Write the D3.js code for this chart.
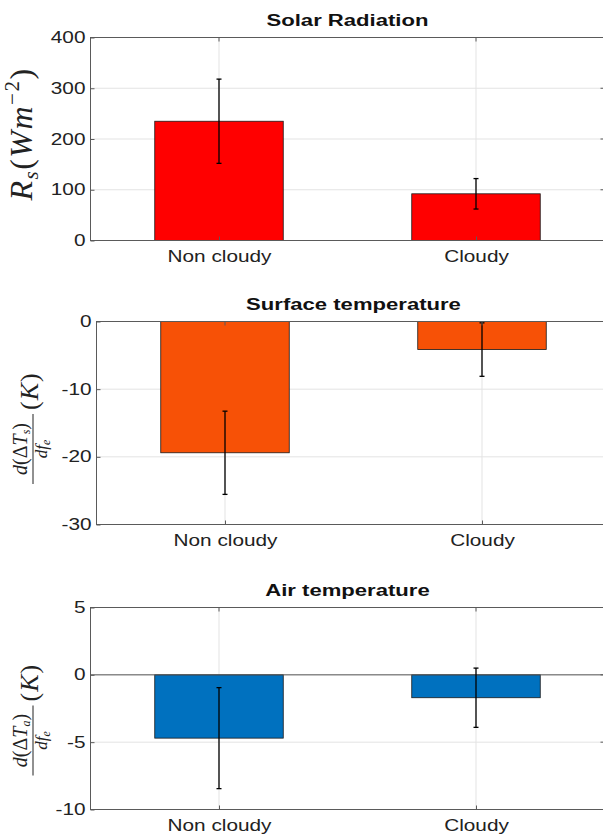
<!DOCTYPE html>
<html>
<head>
<meta charset="utf-8">
<script src="https://cdn.jsdelivr.net/npm/d3@7"></script>
<style>
  body { margin: 0; background: #fff; }
  svg { display: block; font-family: "Liberation Sans", Arial, sans-serif; }
</style>
</head>
<body>
<svg id="canvas" width="603" height="836"></svg>
<script>
const categories = ["Non cloudy", "Cloudy"];
const titles = ["Solar Radiation", "Surface temperature", "Air temperature"];

const radMean = [235, 92];
const radErr = [83, 30];
const tsMean = [-19.4, -4.15];
const tsErr = [6.15, 3.95];
const taMean = [-4.7, -1.7];
const taErr = [3.75, 2.2];

const radTicks = [0, 100, 200, 300, 400];
const tsTicks = [-30, -20, -10, 0];
const taTicks = [-10, -5, 0, 5];

const panels = [
  { title: titles[0], mean: radMean, err: radErr, ticks: radTicks, color: "#ff0000",
    box: { left: 90.5, right: 604.5, top: 37.5, bottom: 240.5 }, label: "rad", shift: -5 },
  { title: titles[1], mean: tsMean, err: tsErr, ticks: tsTicks, color: "#f75106",
    box: { left: 96.5, right: 610.5, top: 321.5, bottom: 524.5 }, label: "s", shift: 0 },
  { title: titles[2], mean: taMean, err: taErr, ticks: taTicks, color: "#0071bf",
    box: { left: 90.5, right: 604.5, top: 607.5, bottom: 809.5 }, label: "a", shift: 6 }
];

let canvas = d3.select("#canvas");
const axisColor = "#5a5a5a";
const gridColor = "#e3e3e3";
const sx = 1.3; // the picture's text is stretched sideways

const drawPanel = (p) => {
  const b = p.box;
  const x = d3.scaleLinear().domain([0.5, 2.5]).range([b.left, b.right]);
  const y = d3.scaleLinear().domain(d3.extent(p.ticks)).range([b.bottom, b.top]);
  const g = canvas.append("g");

  // grid
  g.selectAll(".hgrid").data(p.ticks).enter().append("line")
    .attr("x1", b.left).attr("x2", b.right)
    .attr("y1", (d) => y(d)).attr("y2", (d) => y(d))
    .attr("stroke", gridColor).attr("stroke-width", 1);
  g.selectAll(".vgrid").data(categories).enter().append("line")
    .attr("x1", (d, i) => x(i + 1)).attr("x2", (d, i) => x(i + 1))
    .attr("y1", b.top).attr("y2", b.bottom)
    .attr("stroke", gridColor).attr("stroke-width", 1);

  // bars
  g.selectAll(".bar").data(p.mean).enter().append("rect")
    .attr("x", (d, i) => x(i + 1 - 0.25))
    .attr("width", x(1.5) - x(1))
    .attr("y", (d) => Math.min(y(d), y(0)))
    .attr("height", (d) => Math.abs(y(d) - y(0)))
    .attr("fill", p.color)
    .attr("stroke", "#1a1a1a").attr("stroke-width", 0.8);

  // baseline
  g.append("line")
    .attr("x1", b.left).attr("x2", b.right)
    .attr("y1", y(0)).attr("y2", y(0))
    .attr("stroke", axisColor).attr("stroke-width", 1);

  // error bars
  p.mean.forEach((m, i) => {
    const cx = x(i + 1);
    const y1 = y(m + p.err[i]);
    const y2 = y(m - p.err[i]);
    g.append("line").attr("x1", cx).attr("x2", cx).attr("y1", y1).attr("y2", y2)
      .attr("stroke", "#000").attr("stroke-width", 1.3);
    [y1, y2].forEach((yy) => {
      g.append("line").attr("x1", cx - 2.5).attr("x2", cx + 2.5)
        .attr("y1", yy).attr("y2", yy)
        .attr("stroke", "#000").attr("stroke-width", 1.3);
    });
  });

  // box
  g.append("rect")
    .attr("x", b.left).attr("y", b.top)
    .attr("width", b.right - b.left).attr("height", b.bottom - b.top)
    .attr("fill", "none").attr("stroke", axisColor).attr("stroke-width", 1);

  // axes with inward ticks
  const yAxis = d3.axisLeft(y).tickValues(p.ticks).tickSize(-4);
  const ya = g.append("g").attr("transform", `translate(${b.left},0)`).call(yAxis);
  ya.select(".domain").remove();
  ya.selectAll("line").attr("stroke", axisColor);
  ya.selectAll("text").attr("font-size", 16).attr("fill", "#222")
    .attr("x", -5 / sx).attr("transform", `scale(${sx},1)`)
    .text((d) => (d < 0 ? "-" + Math.abs(d) : d));

  g.selectAll(".rtick").data(p.ticks).enter().append("line")
    .attr("x1", b.right - 4).attr("x2", b.right)
    .attr("y1", (d) => y(d)).attr("y2", (d) => y(d))
    .attr("stroke", axisColor);

  const xAxis = d3.axisBottom(x).tickValues([1, 2]).tickSize(-4).tickPadding(10)
    .tickFormat((d) => categories[d - 1]);
  const xa = g.append("g").attr("transform", `translate(0,${b.bottom})`).call(xAxis);
  xa.select(".domain").remove();
  xa.selectAll("line").attr("stroke", axisColor);
  xa.selectAll("text").attr("font-size", 16).attr("fill", "#222")
    .attr("transform", `scale(${sx},1)`);

  g.selectAll(".ttick").data([1, 2]).enter().append("line")
    .attr("x1", (d) => x(d)).attr("x2", (d) => x(d))
    .attr("y1", b.top).attr("y2", b.top + 4)
    .attr("stroke", axisColor);

  // title
  g.append("text")
    .attr("x", (b.left + b.right) / 2 / sx)
    .attr("y", b.top - 11)
    .attr("transform", `scale(${sx},1)`)
    .attr("text-anchor", "middle")
    .attr("font-size", 17).attr("font-weight", "bold").attr("fill", "#111")
    .text(p.title);

  // y label (math)
  const cy = (b.top + b.bottom) / 2 + p.shift;
  const serif = "'Liberation Serif', 'Times New Roman', serif";
  if (p.label === "rad") {
    const t = canvas.append("text")
      .attr("transform", `translate(32,${cy}) rotate(-90)`)
      .attr("text-anchor", "middle").attr("letter-spacing", 1.5)
      .attr("font-family", serif).attr("font-size", 32).attr("fill", "#222");
    t.append("tspan").attr("font-style", "italic").text("R");
    t.append("tspan").attr("font-style", "italic").attr("font-size", 21).attr("dy", 6).text("s");
    t.append("tspan").attr("dy", -6).text("(");
    t.append("tspan").attr("font-style", "italic").text("Wm");
    t.append("tspan").attr("font-size", 21).attr("dy", -13).text("−2");
    t.append("tspan").attr("dy", 13).text(")");
  } else {
    const lg = canvas.append("g")
      .attr("transform", `translate(33,${cy}) rotate(-90)`)
      .attr("fill", "#222").attr("font-family", serif);
    const num = lg.append("text").attr("x", -26).attr("y", -6)
      .attr("text-anchor", "middle").attr("font-size", 20);
    num.append("tspan").attr("font-style", "italic").text("d");
    num.append("tspan").text("(Δ");
    num.append("tspan").attr("font-style", "italic").text("T");
    num.append("tspan").attr("font-style", "italic").attr("font-size", 12).attr("dy", 3).text(p.label);
    num.append("tspan").attr("dy", -3).text(")");
    lg.append("line").attr("x1", -61).attr("x2", 9).attr("y1", 0).attr("y2", 0)
      .attr("stroke", "#222").attr("stroke-width", 1);
    const den = lg.append("text").attr("x", -26).attr("y", 14)
      .attr("text-anchor", "middle").attr("font-size", 17);
    den.append("tspan").attr("font-style", "italic").text("df");
    den.append("tspan").attr("font-style", "italic").attr("font-size", 12).attr("dy", 3).text("e");
    const k = lg.append("text").attr("x", 13).attr("y", 5)
      .attr("font-size", 26).attr("letter-spacing", 1);
    k.append("tspan").text("(");
    k.append("tspan").attr("font-style", "italic").text("K");
    k.append("tspan").text(")");
  }
};

panels.forEach(drawPanel);
</script>
</body>
</html>
